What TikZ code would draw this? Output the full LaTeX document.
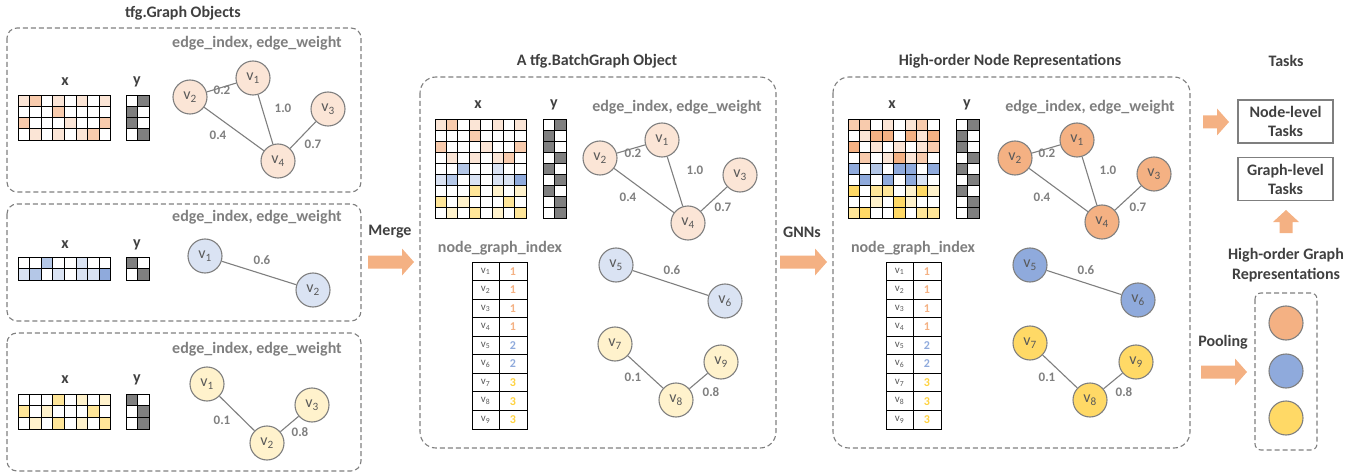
\documentclass[tikz,border=0pt]{standalone}
\usepackage{fontspec}
\setmainfont{Carlito}
\definecolor{W}{HTML}{FFFFFF}
\definecolor{D}{HTML}{7F7F7F}
\definecolor{oA}{HTML}{FBE5D6}
\definecolor{oB}{HTML}{F8CBAD}
\definecolor{oC}{HTML}{F4B183}
\definecolor{bA}{HTML}{DAE3F3}
\definecolor{bB}{HTML}{B4C7E7}
\definecolor{bC}{HTML}{8FAADC}
\definecolor{yA}{HTML}{FFF2CC}
\definecolor{yB}{HTML}{FFE699}
\definecolor{yC}{HTML}{FFD966}
\definecolor{dark}{HTML}{404040}
\definecolor{mid}{HTML}{7F7F7F}
\definecolor{ntxt}{HTML}{595959}
\definecolor{arr}{HTML}{F4B183}
\definecolor{numo}{HTML}{F4B183}
\definecolor{numb}{HTML}{8FAADC}
\definecolor{numy}{HTML}{FFD23F}
\tikzset{
  ttl/.style={font=\fontsize{16}{20}\selectfont\bfseries, text=dark},
  lbl/.style={font=\fontsize{16}{18}\selectfont\bfseries, text=mid},
  xylbl/.style={font=\fontsize{16}{18}\selectfont\bfseries, text=dark},
  wt/.style={font=\fontsize{13}{14}\selectfont\bfseries, text=mid},
  gn/.style={circle, minimum size=34, inner sep=0pt, draw=mid, line width=1.1,
     font=\fontsize{16}{16}\selectfont, text=ntxt},
  gedge/.style={draw=mid, line width=1.1},
  panel/.style={draw=mid, dash pattern=on 5pt off 3pt, line width=1.1},
  taskbox/.style={draw=mid, line width=1.2, minimum width=95, minimum height=43,
     align=center, font=\fontsize{16}{19}\selectfont\bfseries, text=dark},
  tcell/.style={font=\fontsize{11}{11}\selectfont, text=ntxt, inner sep=0pt},
  tnum/.style={font=\fontsize{12}{12}\selectfont\bfseries, inner sep=0pt},
}
% matrix: x0, y0, cell w, cell h, rows
\newcommand\drawmat[5]{%
  \foreach \rowlist [count=\ri] in {#5} {
    \foreach \cc [count=\ci] in \rowlist {
      \filldraw[fill=\cc, draw=black, line width=0.9]
        ({#1+(\ci-1)*#3},{#2+(\ri-1)*#4}) rectangle ++(#3,#4);
    }
  }
}
% right block arrow: x1, x2, yc
\newcommand\rarrow[3]{%
  \fill[arr] (#1,{#3-6.5}) -- ({#2-12},{#3-6.5}) -- ({#2-12},{#3-13.5}) -- (#2,#3)
    -- ({#2-12},{#3+13.5}) -- ({#2-12},{#3+6.5}) -- (#1,{#3+6.5}) -- cycle;}
% node_graph_index table: x0, prefix
\newcommand\ngtable[2]{%
  \foreach \i/\n/\nc in {1/1/numo,2/1/numo,3/1/numo,4/1/numo,5/2/numb,6/2/numb,7/3/numy,8/3/numy,9/3/numy} {
    \draw[black, line width=0.9] (#1,{262+(\i-1)*18.55}) rectangle ++(27,18.55);
    \draw[black, line width=0.9] ({#1+27},{262+(\i-1)*18.55}) rectangle ++(28,18.55);
    \node[tcell] (#2v\i) at ({#1+13.5},{262+(\i-0.5)*18.55}) {v\textsubscript{\i}};
    \node[tnum, text=\nc] (#2n\i) at ({#1+41},{262+(\i-0.5)*18.55}) {\n};
  }
}
\begin{document}
\begin{tikzpicture}[x=1pt, y=-1pt]
\useasboundingbox (0,0) rectangle (1361,476);

% ---------- left panels ----------
\node[ttl] (t1) at (183,13) {tfg.Graph Objects};
\draw[panel, rounded corners=10] (7,28) rectangle (361,192);
\draw[panel, rounded corners=10] (7,204) rectangle (361,321);
\draw[panel, rounded corners=10] (7,333) rectangle (361,471);

% top-left
\node[lbl] (e1) at (257,43) {edge\_index, edge\_weight};
\node[xylbl] (x1) at (65,82) {x};
\node[xylbl] (y1) at (137,82) {y};
\drawmat{18}{95}{11.6}{11.25}{{oA,oB,W,oA,W,oA,W,oA},{W,W,W,oB,W,W,W,W},{oB,W,W,W,oA,W,W,oB},{W,oA,W,oA,W,oA,oB,W}}
\drawmat{126}{95}{11.5}{11.25}{{W,D},{D,W},{D,W},{W,D}}
\node[gn, fill=oA] (a1) at (253,78) {v\textsubscript{1}};
\node[gn, fill=oA] (a2) at (190,97) {v\textsubscript{2}};
\node[gn, fill=oA] (a3) at (328,109) {v\textsubscript{3}};
\node[gn, fill=oA] (a4) at (278,161) {v\textsubscript{4}};
\draw[gedge] (a1) -- (a2);
\draw[gedge] (a1) -- (a4);
\draw[gedge] (a2) -- (a4);
\draw[gedge] (a3) -- (a4);
\node[wt] (w1) at (222,90) {0.2};
\node[wt] (w2) at (283,108) {1.0};
\node[wt] (w3) at (218,135) {0.4};
\node[wt] (w4) at (313,144) {0.7};

% middle-left
\node[lbl] (e2) at (257,217) {edge\_index, edge\_weight};
\node[xylbl] (x2) at (65,245) {x};
\node[xylbl] (y2) at (137,245) {y};
\drawmat{18}{257}{11.6}{11.5}{{W,W,bB,W,W,bA,W,W},{bA,bB,W,bA,W,bA,bA,bC}}
\drawmat{126}{257}{11.5}{11.5}{{D,W},{W,D}}
\node[gn, fill=bA] (b1) at (205,256) {v\textsubscript{1}};
\node[gn, fill=bA] (b2) at (313,290) {v\textsubscript{2}};
\draw[gedge] (b1) -- (b2);
\node[wt] (w5) at (262,260) {0.6};

% bottom-left
\node[lbl] (e3) at (257,349) {edge\_index, edge\_weight};
\node[xylbl] (x3) at (65,380) {x};
\node[xylbl] (y3) at (137,380) {y};
\drawmat{18}{394}{11.6}{11.7}{{W,W,W,yB,W,yA,W,yA},{yB,W,yA,W,W,W,yB,W},{W,yA,W,yB,W,yA,W,yB}}
\drawmat{126}{394}{11.5}{11.7}{{D,W},{W,D},{W,D}}
\node[gn, fill=yA] (c1) at (207,384) {v\textsubscript{1}};
\node[gn, fill=yA] (c2) at (267,443) {v\textsubscript{2}};
\node[gn, fill=yA] (c3) at (312,405) {v\textsubscript{3}};
\draw[gedge] (c1) -- (c2);
\draw[gedge] (c2) -- (c3);
\node[wt] (w6) at (222,420) {0.1};
\node[wt] (w7) at (300,432) {0.8};

% ---------- Merge ----------
\node[ttl] (mg) at (390,232) {Merge};
\rarrow{368}{414}{262}

% ---------- middle panel ----------
\node[ttl] (t2) at (597,61) {A tfg.BatchGraph Object};
\draw[panel, rounded corners=16] (420,77) rectangle (776,448);
\node[xylbl] (x4) at (478,105) {x};
\node[xylbl] (y4) at (554,105) {y};
\drawmat{435}{119}{11.4}{11.1}{{oA,oB,W,oA,W,oA,W,oA},{W,W,W,oB,W,W,W,W},{oB,W,W,W,oA,W,W,oB},{W,oA,W,oA,W,oA,oB,W},{W,W,bB,W,W,bA,W,W},{bA,bB,W,bA,W,bA,bA,bC},{W,W,W,yB,W,yA,W,yA},{yB,W,yA,W,W,W,yB,W},{W,yA,W,yB,W,yA,W,yB}}
\drawmat{543}{119}{11.5}{11.1}{{W,D},{D,W},{D,W},{W,D},{D,W},{W,D},{D,W},{W,D},{W,D}}
\node[lbl] (e4) at (677,107) {edge\_index, edge\_weight};
\node[gn, fill=oA] (m1) at (662,140) {v\textsubscript{1}};
\node[gn, fill=oA] (m2) at (600,158) {v\textsubscript{2}};
\node[gn, fill=oA] (m3) at (740,175) {v\textsubscript{3}};
\node[gn, fill=oA] (m4) at (688,223) {v\textsubscript{4}};
\node[gn, fill=bA] (m5) at (616,265) {v\textsubscript{5}};
\node[gn, fill=bA] (m6) at (725,301) {v\textsubscript{6}};
\node[gn, fill=yA] (m7) at (615,344) {v\textsubscript{7}};
\node[gn, fill=yA] (m8) at (676,400) {v\textsubscript{8}};
\node[gn, fill=yA] (m9) at (721,362) {v\textsubscript{9}};
\draw[gedge] (m1) -- (m2);
\draw[gedge] (m1) -- (m4);
\draw[gedge] (m2) -- (m4);
\draw[gedge] (m3) -- (m4);
\draw[gedge] (m5) -- (m6);
\draw[gedge] (m7) -- (m8);
\draw[gedge] (m8) -- (m9);
\node[wt] (w8) at (633,153) {0.2};
\node[wt] (w9) at (695,170) {1.0};
\node[wt] (w10) at (628,197) {0.4};
\node[wt] (w11) at (723,207) {0.7};
\node[wt] (w12) at (672,270) {0.6};
\node[wt] (w13) at (633,377) {0.1};
\node[wt] (w14) at (711,392) {0.8};
\node[lbl] (g1) at (500,248) {node\_graph\_index};
\ngtable{472}{P}

% ---------- GNNs ----------
\node[ttl] (gn) at (802,232) {GNNs};
\rarrow{780}{827}{262}

% ---------- right panel ----------
\node[ttl] (t3) at (1010,61) {High-order Node Representations};
\draw[panel, rounded corners=16] (833,77) rectangle (1190,448);
\node[xylbl] (x5) at (892,105) {x};
\node[xylbl] (y5) at (967,105) {y};
\drawmat{848}{119}{11.4}{11.1}{{oB,oB,W,oA,W,oA,oB,W},{W,oA,oC,oC,W,oC,oA,oC},{oC,W,oA,W,oA,W,oA,oB},{W,oB,W,oA,oC,oA,oB,W},{bC,W,bB,W,bC,bC,W,bC},{W,bC,W,bC,W,bC,bA,W},{yC,W,yB,yB,W,yA,yC,yA},{W,W,yA,W,yC,yA,W,W},{yB,yC,W,W,yC,W,yB,yB}}
\drawmat{956}{119}{11.5}{11.1}{{W,D},{D,W},{D,W},{W,D},{D,W},{W,D},{D,W},{W,D},{W,D}}
\node[lbl] (e5) at (1090,107) {edge\_index, edge\_weight};
\node[gn, fill=oC] (r1) at (1077,140) {v\textsubscript{1}};
\node[gn, fill=oC] (r2) at (1015,158) {v\textsubscript{2}};
\node[gn, fill=oC] (r3) at (1154,174) {v\textsubscript{3}};
\node[gn, fill=oC] (r4) at (1102,222) {v\textsubscript{4}};
\node[gn, fill=bC] (r5) at (1030,265) {v\textsubscript{5}};
\node[gn, fill=bC] (r6) at (1138,300) {v\textsubscript{6}};
\node[gn, fill=yC] (r7) at (1030,343) {v\textsubscript{7}};
\node[gn, fill=yC] (r8) at (1090,400) {v\textsubscript{8}};
\node[gn, fill=yC] (r9) at (1136,362) {v\textsubscript{9}};
\draw[gedge] (r1) -- (r2);
\draw[gedge] (r1) -- (r4);
\draw[gedge] (r2) -- (r4);
\draw[gedge] (r3) -- (r4);
\draw[gedge] (r5) -- (r6);
\draw[gedge] (r7) -- (r8);
\draw[gedge] (r8) -- (r9);
\node[wt] (w15) at (1047,153) {0.2};
\node[wt] (w16) at (1108,170) {1.0};
\node[wt] (w17) at (1042,197) {0.4};
\node[wt] (w18) at (1138,207) {0.7};
\node[wt] (w19) at (1086,270) {0.6};
\node[wt] (w20) at (1047,377) {0.1};
\node[wt] (w21) at (1124,392) {0.8};
\node[lbl] (g2) at (913,248) {node\_graph\_index};
\ngtable{886}{Q}

% ---------- tasks ----------
\node[ttl] (t4) at (1286,61) {Tasks};
\node[taskbox] (nt) at (1285.5,121.5) {Node-level\\Tasks};
\node[taskbox] (gt) at (1285.5,179) {Graph-level\\Tasks};
\rarrow{1203}{1229}{122}
\fill[arr] (1279.5,233) -- (1279.5,222) -- (1273,222) -- (1286,210) -- (1299,222) -- (1292.5,222) -- (1292.5,233) -- cycle;
\node[ttl, align=center] (hg) at (1286,265) {High-order Graph\\Representations};
\node[ttl] (pl) at (1223,342) {Pooling};
\rarrow{1201}{1247}{372}
\draw[panel, rounded corners=6] (1255,293) rectangle (1317,450);
\node[gn, fill=oC] (p1) at (1286,323) {};
\node[gn, fill=bC] (p2) at (1286,371) {};
\node[gn, fill=yC] (p3) at (1286,418) {};
\end{tikzpicture}
\end{document}
